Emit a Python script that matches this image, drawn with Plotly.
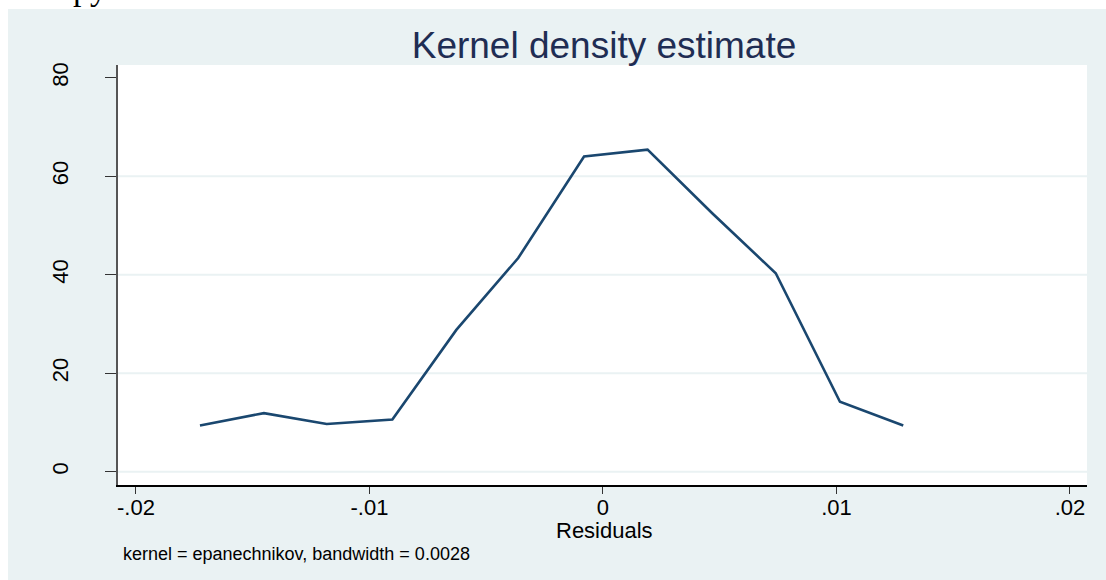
import plotly.graph_objects as go

# Kernel density of the residuals (epanechnikov kernel, bw = 0.0028)
residual_grid = [-0.01726, -0.01452, -0.01183, -0.00902, -0.00628, -0.00363,
                 -0.00081, 0.00191, 0.00468, 0.00740, 0.01015, 0.01286]
density = [9.4, 11.9, 9.7, 10.6, 28.8, 43.4, 64.0, 65.4, 52.5, 40.3, 14.2, 9.4]

x_tick_vals = [-0.02, -0.01, 0.0, 0.01, 0.02]
x_tick_text = ["-.02", "-.01", "0", ".01", ".02"]
y_tick_vals = [0, 20, 40, 60, 80]
y_tick_text = ["0", "20", "40", "60", "80"]
y_grid_vals = [0, 20, 40, 60]

W, H = 1106, 580
L, R, T, B = 118, 19, 65, 95
pw, ph = W - L - R, H - T - B


def px_x(p):
    return (p - L) / pw


def px_y(p):
    return (H - B - p) / ph


BG = "#EAF2F3"
LINE = "#1A476F"
FONT = "Liberation Sans, Arial, sans-serif"

fig = go.Figure()
fig.add_trace(go.Scatter(
    x=residual_grid, y=density, mode="lines",
    line=dict(color=LINE, width=2.6), hoverinfo="skip", showlegend=False,
))

shapes = []
# white strips at the top and left edges of the page
shapes.append(dict(type="rect", xref="paper", yref="paper", layer="below",
                   x0=px_x(-5), x1=px_x(W + 5), y0=px_y(9), y1=px_y(-5),
                   fillcolor="white", line=dict(width=0)))
shapes.append(dict(type="rect", xref="paper", yref="paper", layer="below",
                   x0=px_x(-5), x1=px_x(8), y0=px_y(H + 5), y1=px_y(-5),
                   fillcolor="white", line=dict(width=0)))
# horizontal grid lines
for g in y_grid_vals:
    shapes.append(dict(type="line", xref="paper", yref="y", layer="below",
                       x0=0, x1=1, y0=g, y1=g,
                       line=dict(color=BG, width=2)))

fig.update_layout(
    width=W, height=H,
    margin=dict(l=L, r=R, t=T, b=B),
    paper_bgcolor=BG, plot_bgcolor="white",
    font=dict(family=FONT, color="black"),
    title=dict(text="Kernel density estimate", xref="container", yref="container",
               x=604 / W, xanchor="center", y=1 - 45.5 / H, yanchor="middle",
               font=dict(family=FONT, size=37, color="#1F2D53")),
    shapes=shapes,
    xaxis=dict(
        range=[-0.02077, 0.02073], tickvals=x_tick_vals, ticktext=x_tick_text,
        showgrid=False, zeroline=False, showline=True, linecolor="black",
        linewidth=1.5, ticks="outside", ticklen=7, tickwidth=1.2,
        tickcolor="#333", ticklabelstandoff=-5,
        tickfont=dict(size=22, color="black"),
    ),
    yaxis=dict(
        range=[-2.7, 82.6], tickvals=y_tick_vals, ticktext=y_tick_text,
        showgrid=False, zeroline=False, showline=True, linecolor="#555555",
        linewidth=2, ticks="outside", ticklen=11, tickwidth=1.2,
        tickcolor="#333", tickangle=-90, ticklabelstandoff=28,
        tickfont=dict(size=22, color="black"),
    ),
    annotations=[
        dict(text="Residuals", xref="paper", yref="paper", x=px_x(604),
             y=px_y(530), xanchor="center", yanchor="middle", showarrow=False,
             font=dict(family=FONT, size=22, color="black")),
        dict(text="kernel = epanechnikov, bandwidth = 0.0028", xref="paper",
             yref="paper", x=px_x(121), y=px_y(554), xanchor="left",
             yanchor="middle", showarrow=False,
             font=dict(family=FONT, size=18, color="black")),
        dict(text="py", xref="paper", yref="paper", x=px_x(90), y=px_y(-11),
             xanchor="center", yanchor="middle", showarrow=False,
             font=dict(family="Liberation Serif, serif", size=34, color="black")),
    ],
)

fig.write_html("out.html")
